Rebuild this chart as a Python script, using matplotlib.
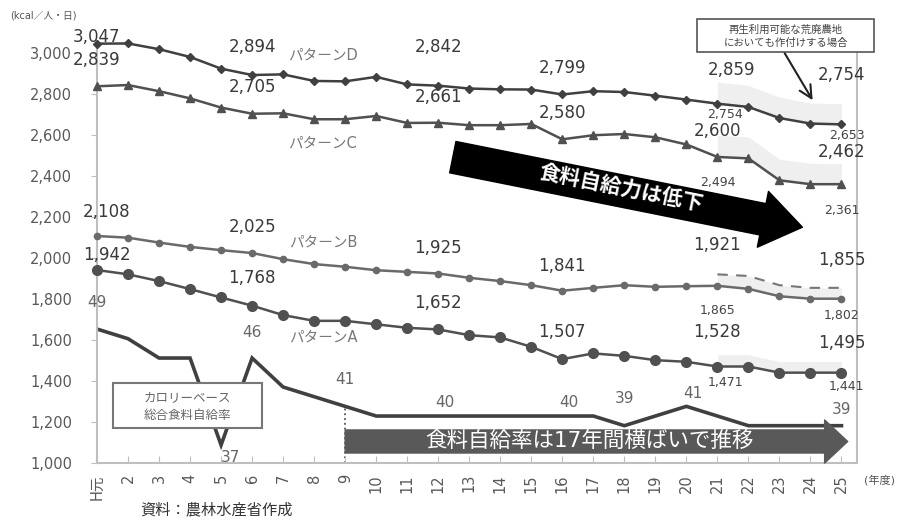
import matplotlib
matplotlib.use('Agg')
import matplotlib.pyplot as plt
from matplotlib.patches import Rectangle

plt.rcParams['font.family'] = ['DejaVu Sans', 'Noto Sans CJK JP']

# --- data -------------------------------------------------------------
years = list(range(1, 26))
year_labels = ['H元'] + [str(y) for y in range(2, 26)]

# 食料自給力指標 (kcal/人・日)
pattern_a = [1942, 1921, 1888, 1849, 1808, 1768, 1722, 1694, 1694, 1677, 1660, 1652, 1624,
             1613, 1567, 1507, 1535, 1523, 1502, 1494, 1471, 1471, 1441, 1441, 1441]
pattern_b = [2108, 2100, 2076, 2055, 2039, 2025, 1995, 1971, 1958, 1941, 1933, 1925, 1904,
             1888, 1868, 1841, 1855, 1868, 1860, 1863, 1865, 1850, 1814, 1802, 1802]
pattern_c = [2839, 2845, 2815, 2780, 2735, 2705, 2707, 2678, 2678, 2694, 2660, 2661, 2649,
             2649, 2655, 2580, 2600, 2606, 2590, 2555, 2494, 2487, 2380, 2361, 2361]
pattern_d = [3047, 3048, 3020, 2982, 2925, 2894, 2897, 2865, 2863, 2885, 2848, 2842, 2828,
             2824, 2823, 2799, 2815, 2811, 2793, 2774, 2754, 2738, 2684, 2657, 2653]

# 再生利用可能な荒廃農地においても作付けする場合 (H21-H25)
extra_years = [21, 22, 23, 24, 25]
extra_a = [1528, 1529, 1495, 1495, 1495]
extra_b = [1921, 1913, 1868, 1855, 1855]
extra_c = [2600, 2592, 2483, 2463, 2462]
extra_d = [2859, 2843, 2786, 2757, 2754]

# カロリーベース総合食料自給率 (%)
rate = [49, 48, 46, 46, 37, 46, 43, 42, 41, 40, 40, 40, 40, 40, 40, 40, 40, 39, 40, 41,
        40, 39, 39, 39, 39]

# value labels: (text, x, y)
big_labels = [
    ('3,047', 0.97, 3078), ('2,839', 0.97, 2966), ('2,894', 6.0, 3029), ('2,705', 6.0, 2834),
    ('2,842', 12.0, 3029), ('2,661', 12.0, 2785), ('2,799', 16.0, 2927), ('2,580', 16.0, 2707),
    ('2,859', 21.45, 2917), ('2,600', 21.0, 2622), ('2,754', 25.0, 2893), ('2,462', 25.0, 2517),
    ('2,108', 1.3, 2224), ('2,025', 6.0, 2151), ('1,925', 12.0, 2049), ('1,841', 16.0, 1961),
    ('1,921', 21.0, 2063), ('1,855', 25.0, 1990), ('1,942', 1.32, 2015), ('1,768', 6.0, 1902),
    ('1,652', 12.0, 1780), ('1,507', 16.0, 1639), ('1,528', 21.0, 1639), ('1,495', 25.0, 1585),
]
small_labels = [
    ('2,754', 21.23, 2702), ('2,653', 25.16, 2600), ('2,494', 21.0, 2371), ('2,361', 25.0, 2234),
    ('1,865', 21.0, 1746), ('1,802', 25.0, 1722), ('1,471', 21.26, 1395), ('1,441', 25.16, 1371),
]
rate_labels = [
    ('49', 1.0, 1785), ('46', 6.0, 1639), ('37', 5.3, 1029), ('41', 9.0, 1410), ('40', 12.2, 1293),
    ('40', 16.2, 1293), ('39', 18.0, 1317), ('41', 20.2, 1341), ('39', 25.0, 1259),
]

fig = plt.figure(figsize=(9.04, 5.2), dpi=100)
ax = fig.add_axes([97 / 904, 1 - 463 / 520, 760 / 904, 422 / 520])
ax2 = ax.twinx()
ax.set_zorder(ax2.get_zorder() + 1)
ax.patch.set_visible(False)

ax.set_xlim(1, 25.5)
ax.set_ylim(1000, 3060)
ax2.set_ylim(35.14, 78.8)

# self-sufficiency rate line (behind everything)
ax2.plot(years, rate, color='#404040', lw=2.6, solid_joinstyle='miter')
ax2.vlines(9, 35.14, rate[8], colors='#555555', linestyles=':', lw=1.3)
ax2.axis('off')

# shaded bands for the abandoned-farmland case
band_color = '#efefef'
ax.fill_between(extra_years, pattern_d[20:], extra_d, color=band_color, lw=0, zorder=1)
ax.fill_between(extra_years, pattern_c[20:], extra_c, color=band_color, lw=0, zorder=1)
ax.fill_between(extra_years, pattern_b[20:], extra_b, color=band_color, lw=0, zorder=1)
ax.fill_between(extra_years, pattern_a[20:], extra_a, color=band_color, lw=0, zorder=1)
ax.plot(extra_years, extra_b, color='#777777', lw=1.5, dashes=(5, 4), zorder=2)

ax.plot(years, pattern_d, color='#404040', lw=1.8, marker='D', ms=4.5, zorder=3, clip_on=False)
ax.plot(years, pattern_c, color='#505050', lw=1.8, marker='^', ms=6, zorder=3, clip_on=False)
ax.plot(years, pattern_b, color='#6a6a6a', lw=1.8, marker='o', ms=4.5, zorder=3, clip_on=False)
ax.plot(years, pattern_a, color='#505050', lw=1.8, marker='o', ms=7, zorder=3, clip_on=False)

for txt, x, y in big_labels:
    ax.text(x, y, txt, fontsize=12, color='#3a3a3a', ha='center', va='center', zorder=5)
for txt, x, y in small_labels:
    ax.text(x, y, txt, fontsize=9, color='#444444', ha='center', va='center', zorder=5)
for txt, x, y in rate_labels:
    ax.text(x, y, txt, fontsize=11, color='#666666', ha='center', va='center', zorder=5)

for name, y in [('パターンD', 2990), ('パターンC', 2561), ('パターンB', 2078), ('パターンA', 1615)]:
    ax.text(8.28, y, name, fontsize=10.5, color='#777777', ha='center', va='center', zorder=5)

# big black arrow: 食料自給力は低下
ax.annotate('', xy=(23.74, 2151), xytext=(12.47, 2493), zorder=4,
            arrowprops=dict(arrowstyle='simple,head_length=2.9,head_width=4.1,tail_width=2.3',
                            mutation_scale=10, fc='black', ec='black', shrinkA=0, shrinkB=0))
ax.text(17.91, 2337, '食料自給力は低下', fontsize=15, color='white', fontweight='bold',
        rotation=-11.3, rotation_mode='anchor', ha='center', va='center', zorder=6)

# gray arrow: 食料自給率は17年間横ばいで推移
ax.annotate('', xy=(25.2, 1105), xytext=(9.0, 1105), zorder=4,
            arrowprops=dict(arrowstyle='simple,head_length=1.66,head_width=3.1,tail_width=1.66',
                            mutation_scale=10, fc='#595959', ec='#595959', shrinkA=0, shrinkB=0))
ax.text(16.88, 1107, '食料自給率は17年間横ばいで推移', fontsize=15.5, color='white',
        ha='center', va='center', zorder=6)

# legend-like boxes
ax.add_patch(Rectangle((1.52, 1171), 4.8, 219, fc='white', ec='#777777', lw=1.5, zorder=4))
ax.text(3.92, 1276, 'カロリーベース\n総合食料自給率', fontsize=9, color='#666666',
        ha='center', va='center', linespacing=1.5, zorder=5)

ax.add_patch(Rectangle((20.33, 3005), 5.73, 161, fc='white', ec='#555555', lw=1.2,
                       zorder=4, clip_on=False))
ax.text(23.2, 3085, '再生利用可能な荒廃農地\nにおいても作付けする場合', fontsize=7.5,
        color='#444444', ha='center', va='center', linespacing=1.35, zorder=5)
ax.annotate('', xy=(24.07, 2771), xytext=(23.17, 3000), zorder=5, annotation_clip=False,
            arrowprops=dict(arrowstyle='->,head_length=0.9,head_width=0.45', color='#222222',
                            lw=1.5, shrinkA=0, shrinkB=0))

# axes styling
ax.spines['top'].set_visible(False)
for side in ['left', 'right', 'bottom']:
    ax.spines[side].set_color('#bfbfbf')
    ax.spines[side].set_linewidth(1.5)

ax.set_yticks(range(1000, 3001, 200))
ax.set_yticklabels([f'{v:,}' for v in range(1000, 3001, 200)])
ax.tick_params(axis='y', direction='out', length=4, color='#bfbfbf', pad=14,
               labelsize=10.5, labelcolor='#595959', right=False)
ax.set_xticks(years)
ax.set_xticklabels(year_labels, rotation=90)
ax.tick_params(axis='x', direction='in', length=5, color='#bfbfbf', pad=8,
               labelsize=10.5, labelcolor='#595959')

fig.text(43 / 904, 1 - 15 / 520, '(kcal／人・日)', fontsize=7, color='#555555',
         ha='center', va='center')
fig.text(880 / 904, 1 - 480 / 520, '(年度)', fontsize=8, color='#555555',
         ha='center', va='center')
fig.text(140 / 904, 1 - 510 / 520, '資料：農林水産省作成', fontsize=11, color='#333333',
         ha='left', va='center')

plt.savefig('out.png', dpi=100)
